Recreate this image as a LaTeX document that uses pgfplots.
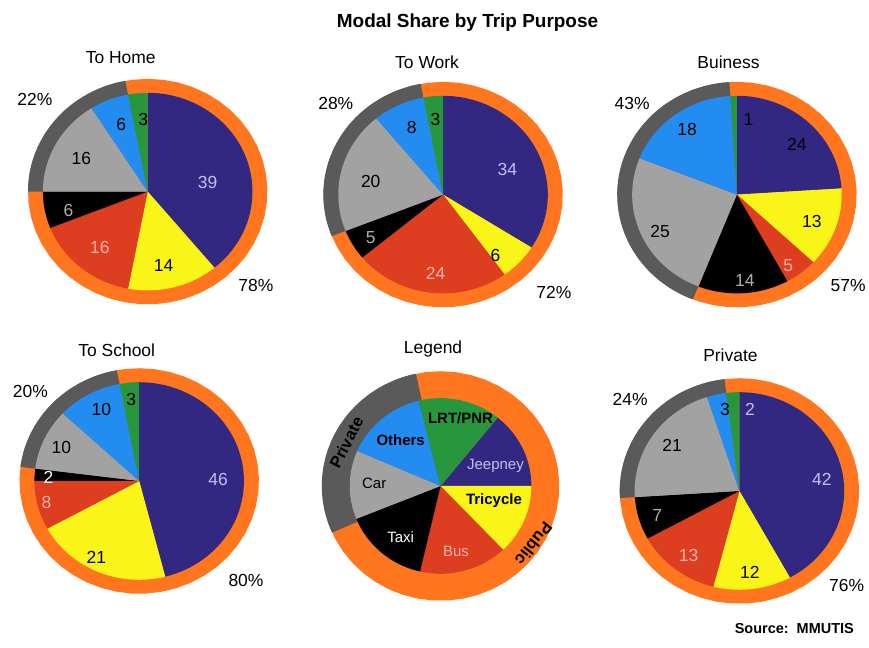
\documentclass[border=0pt]{standalone}
\usepackage{pgfplots}
\pgfplotsset{compat=1.18}
\usepackage{fontspec}
\setmainfont{Liberation Sans}
\definecolor{cJ}{RGB}{50,40,130}
\definecolor{cT}{RGB}{250,245,25}
\definecolor{cB}{RGB}{222,62,32}
\definecolor{cX}{RGB}{0,0,0}
\definecolor{cC}{RGB}{162,162,162}
\definecolor{cO}{RGB}{35,140,240}
\definecolor{cL}{RGB}{40,150,60}
\definecolor{ringorange}{RGB}{255,118,30}
\definecolor{ringgray}{RGB}{90,90,90}
\definecolor{lav}{RGB}{200,190,238}
\definecolor{pinkt}{RGB}{245,178,172}
\definecolor{taxig}{RGB}{175,175,175}
% wedge: cx, cy, rx, ry, angle from, angle to, colour
\newcommand\pwedge[7]{%
  \edef\tmp{\noexpand\addplot[fill=#7, draw=none, domain=#5:#6, samples=50, variable=\noexpand\t]
    ({#1+#3*cos(\noexpand\t)},{#2-#4*sin(\noexpand\t)}) -- (axis cs:#1,#2) -- cycle;}%
  \tmp}
\newcommand\dslice[2]{%
  \pgfmathsetmacro\aA{90-3.6*\cum}%
  \pgfmathsetmacro\cum{\cum+#1}%
  \pgfmathsetmacro\aB{90-3.6*\cum}%
  \pwedge{\pcx}{\pcy}{105}{99}{\aB}{\aA}{#2}}
% data pie: cx, cy, Jeepney, Tricycle, Bus, Taxi, Car, Others, LRT/PNR
\newcommand\datapie[9]{%
  \def\pcx{#1}\def\pcy{#2}\def\cum{0}%
  \pwedge{#1}{#2}{120}{113}{-270}{90}{ringorange}%
  \pgfmathsetmacro\gA{90-3.6*(#3+#4+#5+#6)}%
  \pgfmathsetmacro\gB{90-3.6*(#3+#4+#5+#6+#7+#8)}%
  \pwedge{#1}{#2}{120}{113}{\gB}{\gA}{ringgray}%
  \dslice{#3}{cJ}\dslice{#4}{cT}\dslice{#5}{cB}\dslice{#6}{cX}%
  \dslice{#7}{cC}\dslice{#8}{cO}\dslice{#9}{cL}}
\newcommand\lab{\fontsize{17.5}{17.5}\selectfont}
\newcommand\leg{\fontsize{15}{15}\selectfont}
\begin{document}
\begin{tikzpicture}
\begin{axis}[width=869pt, height=649pt, scale only axis,
  xmin=0, xmax=869, ymin=0, ymax=649, y dir=reverse,
  axis lines=none, clip=false]
\path (axis cs:0,0) rectangle (axis cs:869,649);
% pies
\datapie{148}{192}{39}{14}{16}{6}{16}{6}{3}
\datapie{444}{195}{34}{6}{24}{5}{20}{8}{3}
\datapie{738.5}{195}{24}{13}{5}{14}{25}{18}{1}
\datapie{139.5}{482}{46}{21}{8}{2}{10}{10}{3}
\datapie{741}{492}{42}{12}{13}{7}{21}{3}{2}
% legend pie
\pwedge{441.5}{487}{119}{115}{-270}{90}{ringorange}
\pwedge{441.5}{487}{119}{115}{-258}{-156}{ringgray}
\pwedge{441.5}{487}{91}{88}{0}{51}{cJ}
\pwedge{441.5}{487}{91}{88}{-46.5}{0}{cT}
\pwedge{441.5}{487}{91}{88}{-103}{-46.5}{cB}
\pwedge{441.5}{487}{91}{88}{-158}{-103}{cX}
\pwedge{441.5}{487}{91}{88}{-203.5}{-158}{cC}
\pwedge{441.5}{487}{91}{88}{-256}{-203.5}{cO}
\pwedge{441.5}{487}{91}{88}{-309}{-256}{cL}
% titles
\node[font=\fontsize{19}{19}\selectfont\bfseries] at (axis cs:468.5,22.5) {Modal Share by Trip Purpose};
\node[font=\lab] at (axis cs:121,58) {To Home};
\node[font=\lab] at (axis cs:428,62.5) {To Work};
\node[font=\lab] at (axis cs:730,62.5) {Buiness};
\node[font=\lab] at (axis cs:117,350.5) {To School};
\node[font=\lab] at (axis cs:434,350) {Legend};
\node[font=\lab] at (axis cs:732,356) {Private};
\node[font=\fontsize{14.5}{14.5}\selectfont\bfseries] at (axis cs:796,630) {Source:\ \ MMUTIS};
% percentages
\node[font=\lab] at (axis cs:35,99.5) {22\%};
\node[font=\lab] at (axis cs:256.5,286.5) {78\%};
\node[font=\lab] at (axis cs:336.5,103.5) {28\%};
\node[font=\lab] at (axis cs:555,293.5) {72\%};
\node[font=\lab] at (axis cs:633.5,104) {43\%};
\node[font=\lab] at (axis cs:850,286.5) {57\%};
\node[font=\lab] at (axis cs:30.5,392.5) {20\%};
\node[font=\lab] at (axis cs:246.5,581.5) {80\%};
\node[font=\lab] at (axis cs:631.5,400.5) {24\%};
\node[font=\lab] at (axis cs:848.5,586.5) {76\%};
% To Home labels
\node[font=\lab, text=lav] at (axis cs:208,183) {39};
\node[font=\lab] at (axis cs:164,266.5) {14};
\node[font=\lab, text=pinkt] at (axis cs:100,248) {16};
\node[font=\lab, text=taxig] at (axis cs:68.5,210.5) {6};
\node[font=\lab] at (axis cs:81.5,158.5) {16};
\node[font=\lab] at (axis cs:121.5,125) {6};
\node[font=\lab] at (axis cs:143.5,119.5) {3};
% To Work labels
\node[font=\lab, text=lav] at (axis cs:508.5,170) {34};
\node[font=\lab] at (axis cs:496.5,256.5) {6};
\node[font=\lab, text=pinkt] at (axis cs:436.5,273.5) {24};
\node[font=\lab, text=taxig] at (axis cs:371.5,238.5) {5};
\node[font=\lab] at (axis cs:371.5,181.5) {20};
\node[font=\lab] at (axis cs:412.5,127.5) {8};
\node[font=\lab] at (axis cs:436.5,120) {3};
% Business labels
\node[font=\lab] at (axis cs:750,120) {1};
\node[font=\lab] at (axis cs:798.5,145) {24};
\node[font=\lab] at (axis cs:813.5,221.5) {13};
\node[font=\lab, text=pinkt] at (axis cs:790,266.5) {5};
\node[font=\lab, text=taxig] at (axis cs:746.5,281.5) {14};
\node[font=\lab] at (axis cs:661.5,231.5) {25};
\node[font=\lab] at (axis cs:688.5,130) {18};
% To School labels
\node[font=\lab, text=lav] at (axis cs:218.5,480) {46};
\node[font=\lab] at (axis cs:96.5,558.5) {21};
\node[font=\lab, text=pinkt] at (axis cs:46.5,503.5) {8};
\node[font=\lab, text=white] at (axis cs:48.5,478.5) {2};
\node[font=\lab] at (axis cs:61.5,448.5) {10};
\node[font=\lab] at (axis cs:101.5,410) {10};
\node[font=\lab] at (axis cs:131.5,400) {3};
% Private labels
\node[font=\lab, text=lav] at (axis cs:751.5,410) {2};
\node[font=\lab, text=lav] at (axis cs:823.5,480) {42};
\node[font=\lab] at (axis cs:751.5,573.5) {12};
\node[font=\lab, text=pinkt] at (axis cs:690,556.5) {13};
\node[font=\lab, text=taxig] at (axis cs:658.5,516.5) {7};
\node[font=\lab] at (axis cs:673.5,446.5) {21};
\node[font=\lab] at (axis cs:726.5,410) {3};
% Legend labels
\node[font=\leg\bfseries] at (axis cs:461.5,419.5) {LRT/PNR};
\node[font=\leg\bfseries] at (axis cs:401.5,441.5) {Others};
\node[font=\leg, text=lav] at (axis cs:496.5,466.5) {Jeepney};
\node[font=\leg\bfseries] at (axis cs:495,501.5) {Tricycle};
\node[font=\leg] at (axis cs:375,484) {Car};
\node[font=\leg, text=white] at (axis cs:401.5,538.5) {Taxi};
\node[font=\leg, text=pinkt] at (axis cs:457,553) {Bus};
\node[font=\fontsize{16.5}{16.5}\selectfont\bfseries, rotate=63, inner sep=0pt] at (axis cs:347,443.5) {Private};
\node[font=\fontsize{16.5}{16.5}\selectfont\bfseries, rotate=-128, inner sep=0pt] at (axis cs:535,545) {Public};
\end{axis}
\end{tikzpicture}
\end{document}
